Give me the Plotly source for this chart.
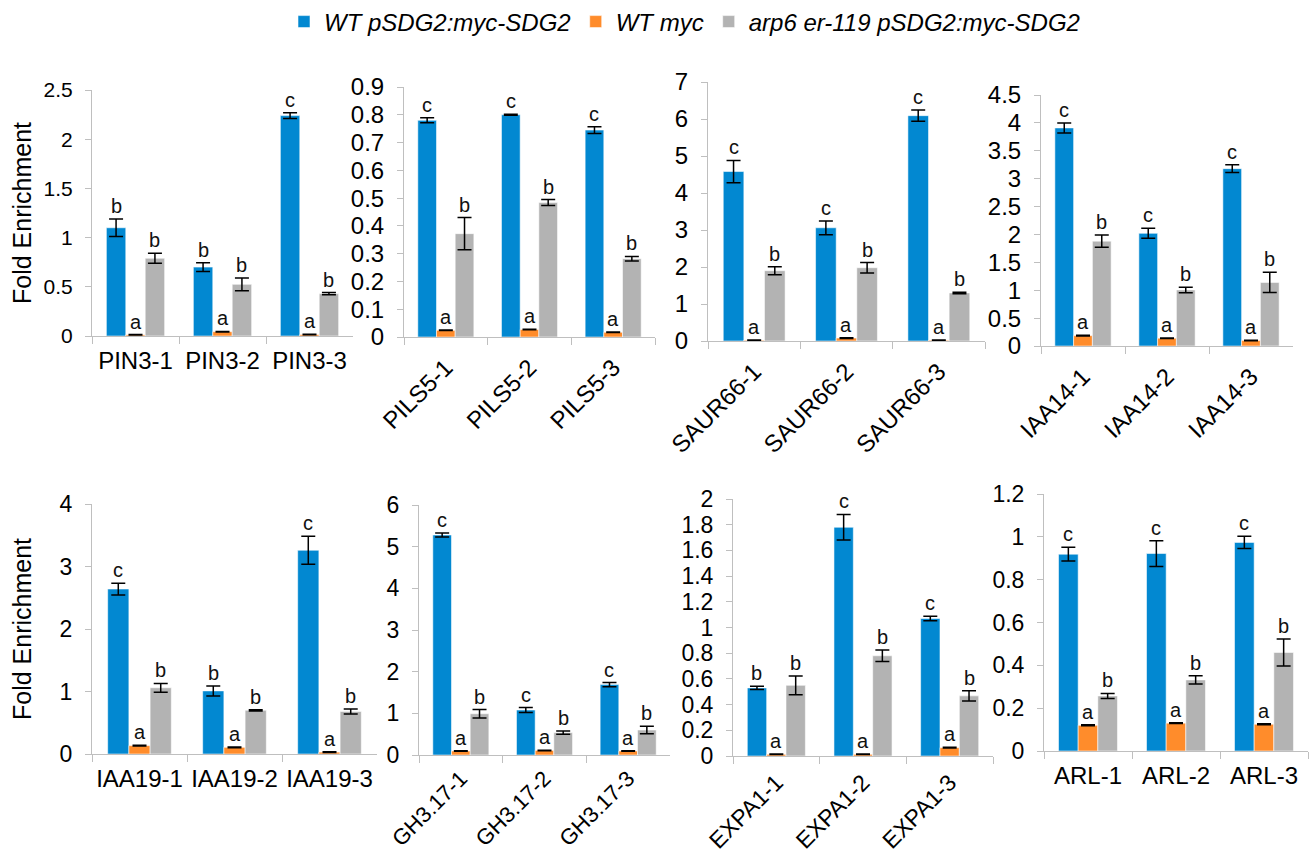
import plotly.graph_objects as go

W, H = 1310, 859

# ---------------- data ----------------
panel_genes = [
    ["PIN3-1", "PIN3-2", "PIN3-3"],
    ["PILS5-1", "PILS5-2", "PILS5-3"],
    ["SAUR66-1", "SAUR66-2", "SAUR66-3"],
    ["IAA14-1", "IAA14-2", "IAA14-3"],
    ["IAA19-1", "IAA19-2", "IAA19-3"],
    ["GH3.17-1", "GH3.17-2", "GH3.17-3"],
    ["EXPA1-1", "EXPA1-2", "EXPA1-3"],
    ["ARL-1", "ARL-2", "ARL-3"],
]
series_names = ["WT pSDG2:myc-SDG2", "WT myc", "arp6 er-119 pSDG2:myc-SDG2"]

wt_vals = [[1.10, 0.70, 2.24], [0.78, 0.80, 0.745], [4.58, 3.06, 6.09], [3.91, 2.02, 3.18],
           [2.64, 1.01, 3.26], [5.28, 1.08, 1.69], [0.53, 1.78, 1.07], [0.919, 0.922, 0.974]]
wt_err = [[0.09, 0.045, 0.03], [0.009, 0.002, 0.012], [0.30, 0.185, 0.15], [0.09, 0.09, 0.07],
          [0.094, 0.08, 0.225], [0.05, 0.06, 0.05], [0.012, 0.10, 0.018], [0.032, 0.06, 0.029]]
myc_vals = [[0.012, 0.044, 0.015], [0.024, 0.027, 0.017], [0.02, 0.08, 0.02], [0.186, 0.14, 0.10],
            [0.134, 0.107, 0.03], [0.096, 0.11, 0.096], [0.013, 0.013, 0.065], [0.12, 0.13, 0.125]]
myc_err = [[0.002, 0.003, 0.002], [0.001, 0.001, 0.001], [0.01, 0.01, 0.01], [0.005, 0.005, 0.005],
           [0.005, 0.005, 0.005], [0.005, 0.005, 0.005], [0.002, 0.002, 0.003], [0.002, 0.002, 0.002]]
arp6_vals = [[0.79, 0.525, 0.43], [0.372, 0.484, 0.282], [1.90, 1.98, 1.30], [1.88, 1.005, 1.14],
             [1.06, 0.70, 0.68], [0.99, 0.536, 0.60], [0.55, 0.78, 0.468], [0.257, 0.332, 0.46]]
arp6_err = [[0.05, 0.065, 0.012], [0.058, 0.011, 0.008], [0.11, 0.14, 0.02], [0.11, 0.05, 0.18],
            [0.07, 0.01, 0.04], [0.10, 0.04, 0.09], [0.073, 0.045, 0.04], [0.012, 0.019, 0.063]]

wt_letters = [["b", "b", "c"], ["c", "c", "c"], ["c", "c", "c"], ["c", "c", "c"],
              ["c", "b", "c"], ["c", "c", "c"], ["b", "c", "c"], ["c", "c", "c"]]
myc_letters = [["a", "a", "a"]] * 8
arp6_letters = [["b", "b", "b"]] * 8

y_max = [2.5, 0.9, 7, 4.5, 4, 6, 2, 1.2]
y_dtick = [0.5, 0.1, 1, 0.5, 1, 1, 0.2, 0.2]

# ---------------- styling / layout ----------------
colors = ["#0288D1", "#FF8C2B", "#B3B3B3"]
# panel pixel boxes: (x0, x1, ytop, ybottom)
boxes = [(92, 353, 90, 336), (404, 655, 87, 337), (708, 985, 82, 341), (1041, 1293, 95, 346),
         (92, 377, 504, 754), (419, 670, 505, 755), (733, 993, 499, 756), (1044, 1308, 494, 751)]
rotated = [False, True, True, True, False, True, True, False]
ytick_size = [21, 24, 24, 24, 23, 23, 23, 23]
xtick_size = [24, 24, 24, 24, 24, 22, 23, 24]
xtick_standoff = [3, 6, 6, 6, 3, 1, 3, 3]
FONT = "Liberation Sans, Arial, sans-serif"
BARGAP = 0.33

fig = go.Figure()
all_vals = [wt_vals, myc_vals, arp6_vals]
all_errs = [wt_err, myc_err, arp6_err]
all_letters = [wt_letters, myc_letters, arp6_letters]
annotations = []

for p in range(8):
    sfx = "" if p == 0 else str(p + 1)
    for s in range(3):
        fig.add_trace(go.Bar(
            x=panel_genes[p], y=all_vals[s][p], name=series_names[s],
            marker=dict(color=colors[s], line=dict(color="rgba(255,255,255,0.55)", width=1)),
            error_y=dict(type="data", array=all_errs[s][p], color="black", thickness=1.5, width=7),
            xaxis="x" + sfx, yaxis="y" + sfx,
            legendgroup=series_names[s], showlegend=(p == 0),
        ))
    x0, x1, yt, yb = boxes[p]
    group_px = (x1 - x0) / 3
    bw = group_px * (1 - BARGAP) / 3
    for s in range(3):
        for i, g in enumerate(panel_genes[p]):
            annotations.append(dict(
                x=g, y=all_vals[s][p][i] + all_errs[s][p][i],
                xref="x" + sfx, yref="y" + sfx, text=all_letters[s][p][i],
                showarrow=False, yanchor="bottom", xshift=(s - 1) * bw, yshift=0,
                font=dict(family=FONT, size=20, color="#111"),
            ))
    xa = dict(
        domain=[x0 / W, x1 / W], anchor="y" + sfx, type="category", automargin=False,
        showline=True, linecolor="#BFBFBF", linewidth=1,
        ticks="outside", tickson="boundaries", ticklen=7, tickcolor="#BFBFBF",
        tickangle=-45 if rotated[p] else 0,
        tickfont=dict(family=FONT, size=xtick_size[p], color="black"),
        ticklabelstandoff=xtick_standoff[p],
        showgrid=False, zeroline=False, fixedrange=True,
    )
    ya = dict(
        domain=[1 - yb / H, 1 - yt / H], anchor="x" + sfx, automargin=False,
        range=[0, y_max[p]], dtick=y_dtick[p], tick0=0,
        showline=True, linecolor="#BFBFBF", linewidth=1,
        ticks="outside", ticklen=6, tickcolor="#BFBFBF",
        tickfont=dict(family=FONT, size=ytick_size[p], color="black"),
        ticklabelstandoff=8,
        showgrid=False, zeroline=False, fixedrange=True,
    )
    if p in (0, 4):
        ya["title"] = dict(text="Fold Enrichment", font=dict(family=FONT, size=25, color="black"),
                           standoff=4 if p == 0 else 20)
    fig.update_layout(**{"xaxis" + sfx: xa, "yaxis" + sfx: ya})

fig.update_layout(
    width=W, height=H,
    margin=dict(l=0, r=0, t=0, b=0, autoexpand=False),
    paper_bgcolor="white", plot_bgcolor="white",
    barmode="group", bargap=BARGAP, bargroupgap=0,
    font=dict(family=FONT, color="black"),
    legend=dict(orientation="h", x=284 / W, y=1 - 22 / H, xanchor="left", yanchor="middle",
                font=dict(family=FONT, size=24, color="black", style="italic"),
                itemwidth=30, tracegroupgap=0, bgcolor="rgba(0,0,0,0)"),
    annotations=annotations,
)

fig.write_html("out.html")
